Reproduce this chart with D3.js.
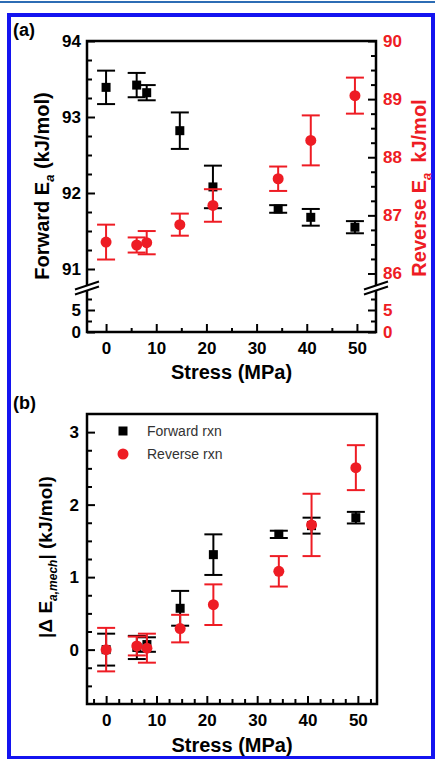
<!DOCTYPE html>
<html>
<head>
<meta charset="utf-8">
<script src="https://cdn.jsdelivr.net/npm/d3@7"></script>
<style>
  body { margin: 0; background: #fff; }
  svg { display: block; font-family: "Liberation Sans", Arial, sans-serif; }
  .tick text { font-weight: bold; font-size: 17px; }
</style>
</head>
<body>
<svg width="435" height="759"></svg>
<script>
// data
let stress = [0, 6.1, 8.1, 14.7, 21.3, 34.3, 40.8, 49.6];
let fwdEa = [93.39, 93.42, 93.32, 92.82, 92.08, 91.79, 91.68, 91.55];
let fwdEaErr = [0.22, 0.16, 0.1, 0.24, 0.28, 0.05, 0.11, 0.08];
let revEa = [86.54, 86.49, 86.53, 86.84, 87.17, 87.63, 88.29, 89.06];
let revEaErr = [0.3, 0.13, 0.2, 0.19, 0.28, 0.21, 0.43, 0.31];
let fwdMech = [0, 0.03, 0.07, 0.57, 1.31, 1.59, 1.71, 1.82];
let fwdMechErr = [0.22, 0.16, 0.1, 0.24, 0.28, 0.05, 0.11, 0.08];
let revMech = [0, 0.05, 0.02, 0.29, 0.62, 1.08, 1.72, 2.51];
let revMechErr = [0.3, 0.13, 0.2, 0.19, 0.28, 0.21, 0.43, 0.31];

let xMajor = [0, 10, 20, 30, 40, 50];
let leftMajor = [91, 92, 93, 94];
let rightMajor = [86, 87, 88, 89, 90];
let lowMajor = [0, 5];
let bMajor = [0, 1, 2, 3];
let legendNames = ['Forward rxn', 'Reverse rxn'];

const RED = '#ee1c24';
let svg = d3.select('svg');

// page frame
svg.append('rect').attr('x', 0).attr('y', 1).attr('width', 435).attr('height', 2).attr('fill', '#2c6cb4');
svg.append('rect').attr('x', 9).attr('y', 15).attr('width', 424).attr('height', 743)
    .attr('fill', 'none').attr('stroke', '#1414f0').attr('stroke-width', 4);

function range(a, b, s) {
    let out = [];
    for (let v = a; v <= b + 1e-9; v += s) out.push(+v.toFixed(4));
    return out;
}
function minorOf(vals, majors) {
    return vals.filter(v => !majors.some(m => Math.abs(m - v) < 1e-6));
}

// ---------- panel (a) ----------
let ax = { l: 87, r: 376, t: 41, b: 332, brk: 288 };
let xA = d3.scaleLinear().domain([-3.8, 53.8]).range([ax.l, ax.r]);
let yL = d3.scaleLinear().domain([90.75, 94]).range([ax.brk, ax.t]);
let yR = d3.scaleLinear().domain([85.75, 90]).range([ax.brk, ax.t]);
let yLow = d3.scaleLinear().domain([0, 10]).range([ax.b, ax.brk]);

let gA = svg.append('g');

function addAxis(g, axis, x, y, color) {
    let a = g.append('g').attr('transform', `translate(${x},${y})`).call(axis);
    a.select('.domain').remove();
    a.selectAll('line').attr('stroke', '#000').attr('stroke-width', 2);
    a.selectAll('text').attr('fill', color || '#000');
    return a;
}

// x axis
addAxis(gA, d3.axisBottom(xA).tickValues(xMajor).tickSize(-8).tickPadding(10), 0, ax.b);
addAxis(gA, d3.axisBottom(xA).tickValues(minorOf(range(0, 50, 5), xMajor)).tickSize(-4).tickFormat(''), 0, ax.b);
// left axis
addAxis(gA, d3.axisLeft(yL).tickValues(leftMajor).tickSize(-8).tickPadding(6).tickFormat(d3.format('d')), ax.l, 0);
addAxis(gA, d3.axisLeft(yL).tickValues(minorOf(range(91, 94, 0.25), leftMajor)).tickSize(-5).tickFormat(''), ax.l, 0);
addAxis(gA, d3.axisLeft(yLow).tickValues(lowMajor).tickSize(-8).tickPadding(6), ax.l, 0);
addAxis(gA, d3.axisLeft(yLow).tickValues([2.5, 7.5]).tickSize(-5).tickFormat(''), ax.l, 0);
// right axis
addAxis(gA, d3.axisRight(yR).tickValues(rightMajor).tickSize(-8).tickPadding(7).tickFormat(d3.format('d')), ax.r, 0, RED);
addAxis(gA, d3.axisRight(yR).tickValues(minorOf(range(86, 90, 0.25), rightMajor)).tickSize(-5).tickFormat(''), ax.r, 0);
addAxis(gA, d3.axisRight(yLow).tickValues(lowMajor).tickSize(-8).tickPadding(7), ax.r, 0, RED);
addAxis(gA, d3.axisRight(yLow).tickValues([2.5, 7.5]).tickSize(-5).tickFormat(''), ax.r, 0);

// box lines
gA.append('path')
    .attr('d', `M${ax.l},${ax.b}V${ax.t}H${ax.r}V${ax.b}Z`)
    .attr('fill', 'none').attr('stroke', '#000').attr('stroke-width', 2.5);

// axis breaks
[ax.l, ax.r].forEach(function (x) {
    gA.append('rect').attr('x', x - 3).attr('y', ax.brk - 3).attr('width', 6).attr('height', 5).attr('fill', '#fff');
    [-2.5, 2.5].forEach(function (o) {
        gA.append('line')
            .attr('x1', x - 12).attr('y1', ax.brk + o + 4)
            .attr('x2', x + 12).attr('y2', ax.brk + o - 4)
            .attr('stroke', '#000').attr('stroke-width', 2);
    });
});

function errorBars(g, xs, ys, es, xScale, yScale, color) {
    let grp = g.append('g').attr('stroke', color).attr('stroke-width', 2);
    xs.forEach(function (x, i) {
        let cx = xScale(x), t = yScale(ys[i] + es[i]), b = yScale(ys[i] - es[i]);
        grp.append('line').attr('x1', cx).attr('x2', cx).attr('y1', t).attr('y2', b);
        grp.append('line').attr('x1', cx - 9).attr('x2', cx + 9).attr('y1', t).attr('y2', t);
        grp.append('line').attr('x1', cx - 9).attr('x2', cx + 9).attr('y1', b).attr('y2', b);
    });
}
function squares(g, xs, ys, xScale, yScale) {
    g.selectAll(null).data(xs).enter().append('rect')
        .attr('x', (d) => xScale(d) - 4.5)
        .attr('y', (d, i) => yScale(ys[i]) - 4.5)
        .attr('width', 9).attr('height', 9).attr('fill', '#000');
}
function circles(g, xs, ys, xScale, yScale) {
    g.selectAll(null).data(xs).enter().append('circle')
        .attr('cx', (d) => xScale(d))
        .attr('cy', (d, i) => yScale(ys[i]))
        .attr('r', 5.5).attr('fill', RED);
}

errorBars(gA, stress, fwdEa, fwdEaErr, xA, yL, '#000');
squares(gA, stress, fwdEa, xA, yL);
errorBars(gA, stress, revEa, revEaErr, xA, yR, RED);
circles(gA, stress, revEa, xA, yR);

// labels
svg.append('text').attr('x', 13).attr('y', 36).attr('font-size', 18).attr('font-weight', 'bold').text('(a)');
svg.append('text').attr('x', (ax.l + ax.r) / 2).attr('y', 379).attr('text-anchor', 'middle')
    .attr('font-size', 20).attr('font-weight', 'bold').text('Stress (MPa)');

let lt = svg.append('text').attr('transform', 'translate(49,186) rotate(-90)')
    .attr('text-anchor', 'middle').attr('font-size', 20).attr('font-weight', 'bold');
lt.append('tspan').text('Forward E');
lt.append('tspan').attr('font-size', 13).attr('font-style', 'italic').attr('dy', 5).text('a');
lt.append('tspan').attr('dy', -5).text(' (kJ/mol)');

let rt = svg.append('text').attr('transform', 'translate(426,188) rotate(-90)')
    .attr('text-anchor', 'middle').attr('font-size', 20).attr('font-weight', 'bold').attr('fill', RED);
rt.append('tspan').text('Reverse E');
rt.append('tspan').attr('font-size', 13).attr('font-style', 'italic').attr('dy', 5).text('a');
rt.append('tspan').attr('dy', -5).attr('dx', 10).text('kJ/mol');

// ---------- panel (b) ----------
let bx = { l: 87, r: 377, t: 414, b: 704 };
let xB = d3.scaleLinear().domain([-3.8, 53.8]).range([bx.l, bx.r]);
let yB = d3.scaleLinear().domain([-0.75, 3.25]).range([bx.b, bx.t]);
let gB = svg.append('g');

addAxis(gB, d3.axisBottom(xB).tickValues(xMajor).tickSize(-8).tickPadding(10), 0, bx.b);
addAxis(gB, d3.axisBottom(xB).tickValues(minorOf(range(-2.5, 52.5, 2.5), xMajor)).tickSize(-5).tickFormat(''), 0, bx.b);
addAxis(gB, d3.axisLeft(yB).tickValues(bMajor).tickSize(-8).tickPadding(8).tickFormat(d3.format('d')), bx.l, 0);
addAxis(gB, d3.axisLeft(yB).tickValues(minorOf(range(-0.5, 3, 0.25), bMajor)).tickSize(-5).tickFormat(''), bx.l, 0);

gB.append('rect').attr('x', bx.l).attr('y', bx.t).attr('width', bx.r - bx.l).attr('height', bx.b - bx.t)
    .attr('fill', 'none').attr('stroke', '#000').attr('stroke-width', 2.5);

errorBars(gB, stress, fwdMech, fwdMechErr, xB, yB, '#000');
squares(gB, stress, fwdMech, xB, yB);
errorBars(gB, stress, revMech, revMechErr, xB, yB, RED);
circles(gB, stress, revMech, xB, yB);

// legend
let leg = gB.append('g');
leg.append('rect').attr('x', 118.5).attr('y', 426.5).attr('width', 9).attr('height', 9).attr('fill', '#000');
leg.append('circle').attr('cx', 123).attr('cy', 454).attr('r', 5.5).attr('fill', RED);
legendNames.forEach(function (n, i) {
    leg.append('text').attr('x', 147).attr('y', 436 + i * 23).attr('font-size', 14).attr('fill', '#333').text(n);
});

svg.append('text').attr('x', 13).attr('y', 409).attr('font-size', 18).attr('font-weight', 'bold').text('(b)');
svg.append('text').attr('x', (bx.l + bx.r) / 2).attr('y', 752).attr('text-anchor', 'middle')
    .attr('font-size', 20).attr('font-weight', 'bold').text('Stress (MPa)');

let bt = svg.append('text').attr('transform', 'translate(52,557) rotate(-90)')
    .attr('text-anchor', 'middle').attr('font-size', 19).attr('font-weight', 'bold');
bt.append('tspan').text('|\u0394 E');
bt.append('tspan').attr('font-size', 12).attr('font-style', 'italic').attr('dy', 5).text('a,mech');
bt.append('tspan').attr('dy', -5).text('| (kJ/mol)');
</script>
</body>
</html>
